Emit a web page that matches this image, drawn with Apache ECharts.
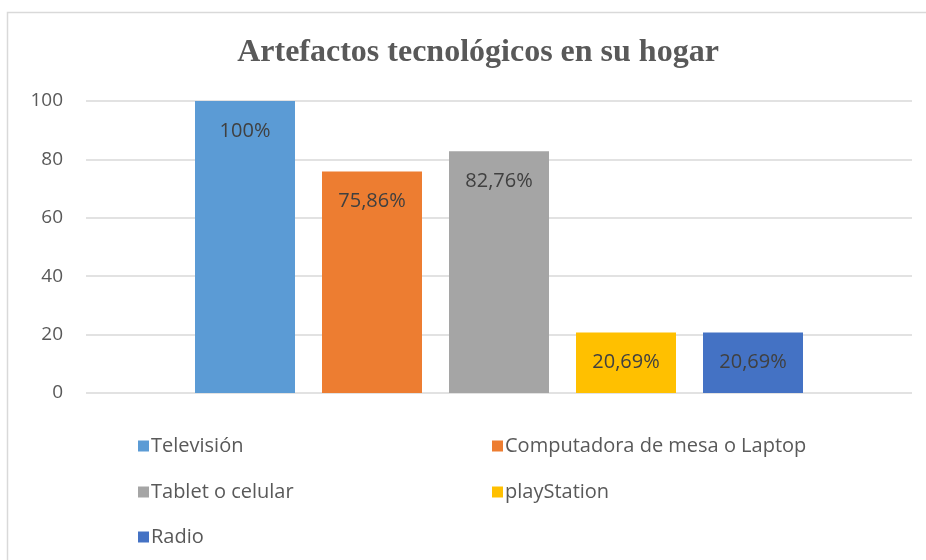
<!DOCTYPE html>
<html>
<head>
<meta charset="utf-8">
<script src="https://cdn.jsdelivr.net/npm/echarts@6/dist/echarts.min.js"></script>
<style>
  html, body { margin: 0; padding: 0; background: #fff; }
  #chart { width: 926px; height: 560px; }
</style>
</head>
<body>
<div id="chart"></div>
<script>
// datos del gráfico
const categories = ["Artefactos"];
const seriesNames = ["Televisión", "Computadora de mesa o Laptop", "Tablet o celular", "playStation", "Radio"];
const seriesValues = [100, 75.86, 82.76, 20.69, 20.69];
const colorList = ["#5b9bd5", "#ed7d31", "#a5a5a5", "#ffc000", "#4472c4"];
const yTicks = { min: 0, max: 100, interval: 20 };

// posiciones de la leyenda (dos columnas)
const legendPos = [
  { left: 133, top: 431 },
  { left: 487, top: 431 },
  { left: 133, top: 477 },
  { left: 487, top: 477 },
  { left: 133, top: 522 },
];

const chart = echarts.init(document.getElementById("chart"));

const option = {
  animation: false,
  title: {
    text: "Artefactos tecnológicos en su hogar",
    left: 473,
    textAlign: "center",
    top: 32,
    textStyle: {
      fontFamily: "Liberation Serif",
      fontWeight: "bold",
      fontSize: 32,
      color: "#595959",
    },
  },
  graphic: [
    {
      type: "rect",
      left: 5,
      top: 10,
      shape: { width: 960, height: 600 },
      style: { fill: "none", stroke: "#d9d9d9", lineWidth: 1.5 },
      silent: true,
    },
  ],
  legend: seriesNames.map((name, i) => ({
    data: [name],
    left: legendPos[i].left,
    top: legendPos[i].top,
    icon: "rect",
    itemWidth: 11,
    itemHeight: 11,
    itemGap: 0,
    textStyle: { fontFamily: "Open Sans", fontSize: 20, color: "#595959", padding: [0, 0, 0, -3] },
  })),
  grid: {
    left: 86,
    right: 14,
    top: 101,
    bottom: 167,
  },
  xAxis: {
    type: "category",
    data: categories,
    axisLine: { show: false },
    axisTick: { show: false },
    axisLabel: { show: false },
  },
  yAxis: {
    type: "value",
    min: yTicks.min,
    max: yTicks.max,
    interval: yTicks.interval,
    axisLine: { show: false },
    axisTick: { show: false },
    axisLabel: {
      fontFamily: "Open Sans",
      fontSize: 19,
      color: "#595959",
      margin: 23,
    },
    splitLine: { lineStyle: { color: "#d9d9d9", width: 1.5 } },
  },
  series: seriesNames.map((name, i) => ({
    name: name,
    type: "bar",
    data: [seriesValues[i]],
    barWidth: 100,
    barGap: "27%",
    itemStyle: { color: colorList[i] },
    label: {
      show: true,
      position: "insideTop",
      distance: 20,
      fontFamily: "Open Sans",
      fontSize: 20,
      color: "#404040",
      formatter: (p) => String(p.value).replace(".", ",") + "%",
    },
  })),
};

chart.setOption(option);
</script>
</body>
</html>
